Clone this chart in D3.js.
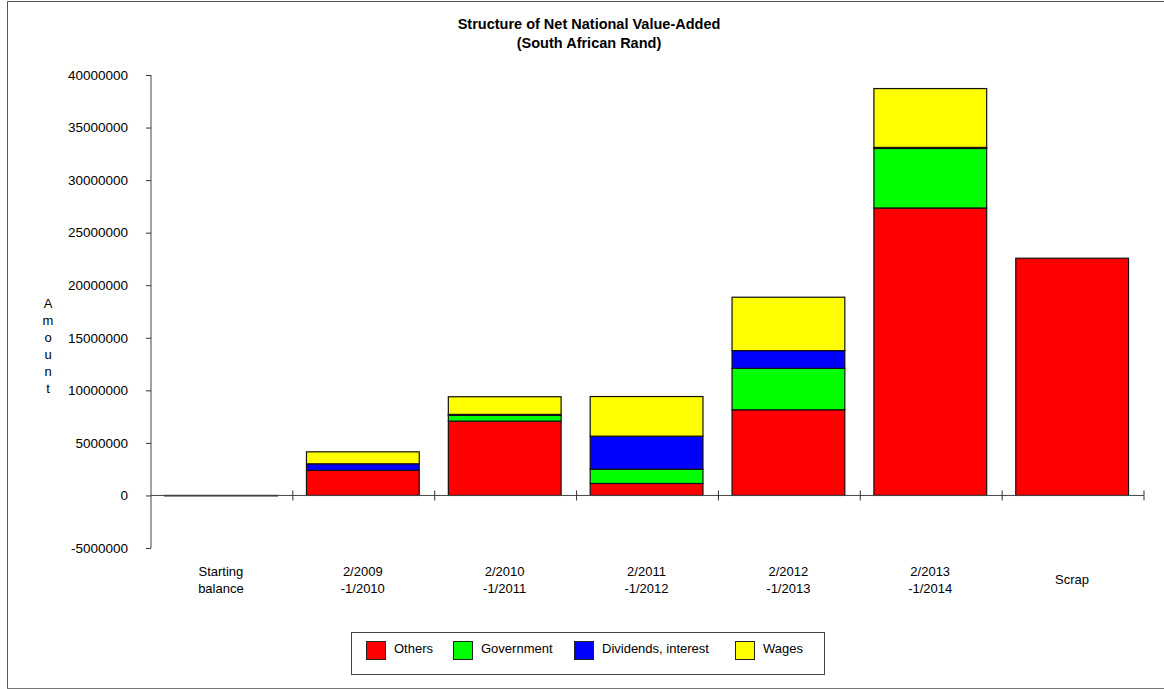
<!DOCTYPE html>
<html>
<head>
<meta charset="utf-8">
<script src="https://cdn.jsdelivr.net/npm/d3@7"></script>
<style>
  html, body { margin: 0; padding: 0; background: #fff; }
  svg { display: block; font-family: "Liberation Sans", Arial, sans-serif; }
</style>
</head>
<body>
<svg id="chart" width="1164" height="689"></svg>
<script>
// ---- data ----
const categories = ["Starting balance", "2/2009 -1/2010", "2/2010 -1/2011", "2/2011 -1/2012", "2/2012 -1/2013", "2/2013 -1/2014", "Scrap"];
const categoryLines = [["Starting", "balance"], ["2/2009", "-1/2010"], ["2/2010", "-1/2011"], ["2/2011", "-1/2012"], ["2/2012", "-1/2013"], ["2/2013", "-1/2014"], ["Scrap"]];
const seriesNames = ["Others", "Government", "Dividends, interest", "Wages"];
const seriesColors = ["#ff0000", "#00ff00", "#0000ff", "#ffff00"];
const others     = [-40000, 2380000, 7070000, 1140000, 8150000, 27350000, 22570000];
const government = [0, 0, 560000, 1360000, 3940000, 5660000, 0];
const dividends  = [0, 630000, 80000, 3140000, 1690000, 100000, 0];
const wages      = [0, 1140000, 1680000, 3770000, 5080000, 5600000, 0];
const yTicks = [-5000000, 0, 5000000, 10000000, 15000000, 20000000, 25000000, 30000000, 35000000, 40000000];
const titleLines = ["Structure of Net National Value-Added", "(South African Rand)"];
const yAxisLabel = "Amount";

// ---- setup ----
const svg = d3.select("#chart");
const seriesValues = [others, government, dividends, wages];

// outer frame
svg.append("path").attr("d", "M7.5,689 V1.5 H1164").attr("fill", "none").attr("stroke", "#555").attr("stroke-width", 1);
svg.append("line").attr("x1", 7).attr("x2", 1164).attr("y1", 688.5).attr("y2", 688.5).attr("stroke", "#777");

const x = d3.scaleBand().domain(categories).range([151, 1144]).paddingInner(0).paddingOuter(0);
const y = d3.scaleLinear().domain([-5000000, 40000000]).range([548, 75]);

// title
svg.append("g").selectAll("text").data(titleLines).join("text")
  .attr("x", 589).attr("y", (d, i) => 29 + i * 19)
  .attr("text-anchor", "middle").attr("font-size", 14.5).attr("font-weight", "bold")
  .attr("fill", "#000").text(d => d);

// y axis
const yAxis = d3.axisLeft(y).tickValues(yTicks).tickFormat(d => String(d)).tickSize(5).tickPadding(18);
const gy = svg.append("g").attr("transform", "translate(151,0)").call(yAxis);
gy.select(".domain").attr("stroke", "#444").attr("d", `M0,${y(-5000000)}V${y(40000000)}`);
gy.selectAll(".tick line").attr("stroke", "#333");
gy.selectAll(".tick text").attr("font-size", 13.5).attr("fill", "#000").attr("font-family", "Liberation Sans, Arial, sans-serif");

// y axis label: stacked letters
svg.append("g").selectAll("text").data(yAxisLabel.split("")).join("text")
  .attr("x", 48).attr("y", (d, i) => 308 + i * 17)
  .attr("text-anchor", "middle").attr("font-size", 13).attr("fill", "#000").text(d => d);

// stacked bars
const bw = x.bandwidth();
const barOff = bw * 0.096, barW = bw * 0.795;
const stackData = categories.map((c, i) => {
  let pos = 0, neg = 0;
  return seriesValues.map((s, k) => {
    const v = s[i];
    let y0, y1;
    if (v >= 0) { y0 = pos; y1 = pos + v; pos = y1; } else { y0 = neg + v; y1 = neg; neg = y0; }
    return { cat: c, k, v, y0, y1 };
  });
});
const gBars = svg.append("g");
stackData.forEach(segs => {
  segs.forEach(s => {
    if (s.v === 0) return;
    gBars.append("rect")
      .attr("x", x(s.cat) + barOff)
      .attr("width", barW)
      .attr("y", y(s.y1))
      .attr("height", Math.max(0.4, y(s.y0) - y(s.y1)))
      .attr("fill", seriesColors[s.k])
      .attr("stroke", "#111").attr("stroke-width", 1.2);
  });
});

// x axis (zero line) with ticks between categories
const gx = svg.append("g");
gx.append("line").attr("x1", 151).attr("x2", 1144).attr("y1", y(0)).attr("y2", y(0)).attr("stroke", "#444");
gx.selectAll("line.tk").data(categories).join("line").attr("class", "tk")
  .attr("x1", d => x(d) + bw).attr("x2", d => x(d) + bw)
  .attr("y1", y(0) - 5).attr("y2", y(0) + 5).attr("stroke", "#333");

// x labels
const gl = svg.append("g");
categories.forEach((c, i) => {
  const lines = categoryLines[i];
  const cx = x(c) + bw / 2 - 1;
  lines.forEach((t, j) => {
    const yy = lines.length === 1 ? 584 : 576 + j * 17;
    gl.append("text").attr("x", cx).attr("y", yy).attr("text-anchor", "middle")
      .attr("font-size", 13).attr("fill", "#000").text(t);
  });
});

// legend
const lg = svg.append("g");
lg.append("rect").attr("x", 351.5).attr("y", 632.5).attr("width", 473).attr("height", 42)
  .attr("fill", "#fff").attr("stroke", "#444");
const swX = [366, 453, 574, 735];
seriesNames.forEach((n, k) => {
  lg.append("rect").attr("x", swX[k] + 0.5).attr("y", 641.5).attr("width", 19).attr("height", 18)
    .attr("fill", seriesColors[k]).attr("stroke", "#222");
  lg.append("text").attr("x", swX[k] + 28).attr("y", 653).attr("font-size", 13).attr("fill", "#000").text(n);
});
</script>
</body>
</html>
